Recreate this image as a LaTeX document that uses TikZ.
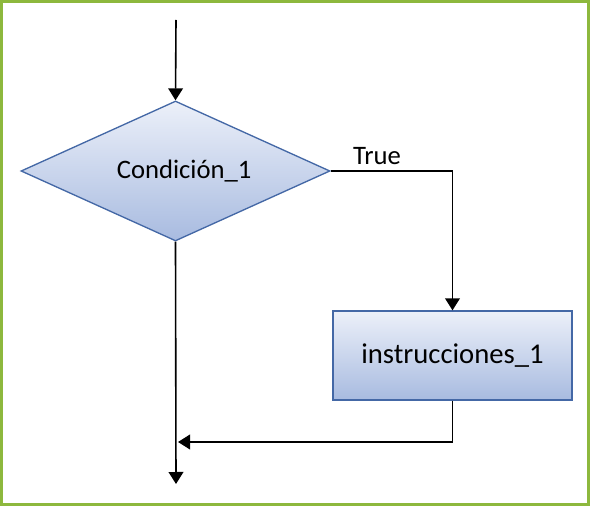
\documentclass[tikz,border=0pt]{standalone}
\usepackage{fontspec}
\setmainfont{Carlito}
\usetikzlibrary{shapes.geometric,arrows.meta}

\definecolor{framegreen}{RGB}{141,184,61}
\definecolor{shapeedge}{RGB}{68,104,166}
\definecolor{shapetop}{RGB}{236,240,249}
\definecolor{shapebottom}{RGB}{168,187,224}

\begin{document}
\begin{tikzpicture}[x=0.75pt,y=0.75pt,yscale=-1,xscale=1,
  flowshape/.style={draw=shapeedge, line width=1pt, top color=shapetop, bottom color=shapebottom, inner sep=0pt},
  cond/.style={flowshape, diamond, aspect=2.2, minimum width=231.75pt, minimum height=105pt, font=\fontsize{20}{24}\selectfont},
  instr/.style={flowshape, rectangle, minimum width=179.25pt, minimum height=66.75pt, font=\fontsize{21.5}{25}\selectfont},
  flowline/.style={line width=1.2pt, -{Triangle[width=11pt,length=9pt]}}]
%set diagram size 590x506
\useasboundingbox (0,0) rectangle (590,506);
%Frame
\draw [framegreen, line width=2.6pt] (1.7,1.7) rectangle (588.3,504.3);

%Shapes
\node [cond] (cond) at (175.5,171) {\hspace*{13pt}Condición\_1};
\node [instr] (instr) at (452.5,355.5) {instrucciones\_1};

%Free ends
\coordinate (start) at (176,20);
\coordinate (merge) at (178,442);
\coordinate (end) at (176,484);

%Connectors
\draw [flowline] (start) -- (cond.north);
\draw [flowline] (cond.east) -| node [pos=0.19, above, inner sep=4.5pt, font=\fontsize{20}{24}\selectfont] {True} (instr.north);
\draw [flowline] (instr.south) |- (merge);
\draw [flowline] (cond.south) -- (end);

\end{tikzpicture}
\end{document}
